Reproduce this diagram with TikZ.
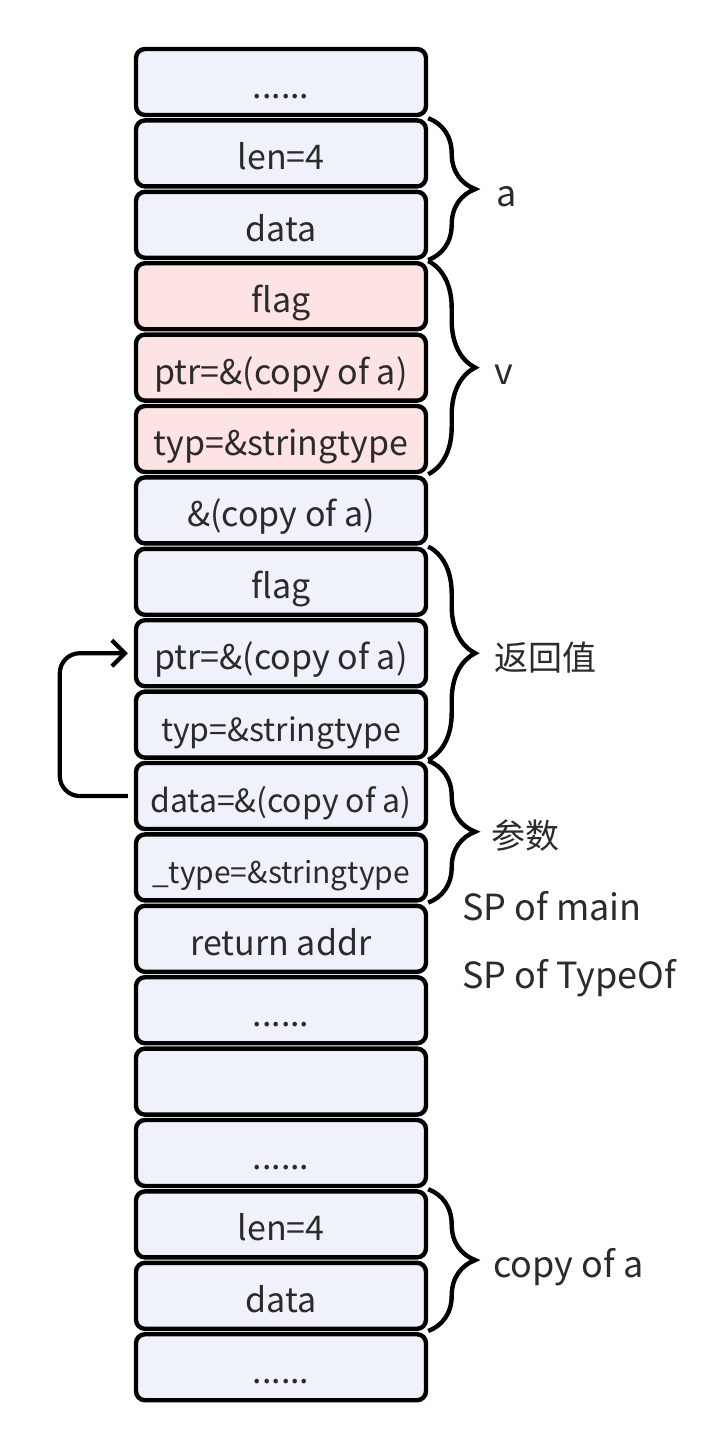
\documentclass[tikz,border=0pt]{standalone}
\usepackage{fontspec}
\setmainfont{Noto Sans CJK SC}
\usetikzlibrary{arrows.meta, positioning, decorations.pathreplacing}
\definecolor{cellblue}{HTML}{EFF2FA}
\definecolor{cellpink}{HTML}{FDE3E3}
\definecolor{txtgray}{HTML}{2B2B2B}

\begin{document}
\begin{tikzpicture}[
    x=1pt, y=-1pt,
    >=Stealth,
    fs/.style={font=\fontsize{#1}{40}\selectfont},
    cell/.style={draw, line width=4.4pt, rounded corners=9pt, fill=cellblue, minimum width=290pt, minimum height=66pt, inner sep=0pt, text=txtgray, fs=34, text height=39pt, text depth=6pt},
    brc/.style={decorate, decoration={brace, amplitude=47pt}, line width=4.4pt},
    lbl/.style={text=txtgray, fs=36, inner sep=0pt, text height=40pt, text depth=6pt},
    flow/.style={line width=4.2pt, rounded corners=20pt, -{Straight Barb[length=13pt, width=26pt]}},
]
\useasboundingbox (0,0) rectangle (726,1452);
% === Stack cells, top to bottom ===
\foreach \i/\v/\c/\f in {1/{......}/cellblue/34, 2/{len=4}/cellblue/34, 3/{data}/cellblue/34,
    4/{flag}/cellpink/34, 5/{ptr=\&(copy of a)}/cellpink/34, 6/{typ=\&stringtype}/cellpink/34,
    7/{\&(copy of a)}/cellblue/34, 8/{flag}/cellblue/34, 9/{ptr=\&(copy of a)}/cellblue/34,
    10/{typ=\&stringtype}/cellblue/32, 11/{data=\&(copy of a)}/cellblue/32,
    12/{\_type=\&stringtype}/cellblue/30, 13/{return addr}/cellblue/34, 14/{......}/cellblue/34,
    15/{}/cellblue/34, 16/{......}/cellblue/34, 17/{len=4}/cellblue/34, 18/{data}/cellblue/34,
    19/{......}/cellblue/34} {
    \node[cell, fill=\c, fs=\f] (r\i) at (281, 82+\i*71.4-71.4) {\v};
}
% === Braces with names ===
\draw[brc] (r2.north east) -- (r3.south east) node[lbl, midway, right=66pt] (la) {a};
\draw[brc] (r4.north east) -- (r6.south east) node[lbl, midway, right=64pt] (lv) {v};
\draw[brc] (r8.north east) -- (r10.south east) node[lbl, fs=34, midway, right=64pt] (lret) {返回值};
\draw[brc] (r11.north east) -- (r12.south east) node[lbl, fs=34, midway, right=61pt] (larg) {参数};
\draw[brc] (r17.north east) -- (r18.south east) node[lbl, midway, right=63pt] (lcopy) {copy of a};
% === Stack pointers ===
\node[lbl, anchor=base west] (spmain) at (462, 920) {SP of main};
\node[lbl, anchor=base west] (sptype) at (462, 988) {SP of TypeOf};
% === Pointer loop ===
\draw[flow] ([xshift=-6pt]r11.west) -| ([xshift=-74pt]r9.west) -- ([xshift=-6pt]r9.west);
\end{tikzpicture}
\end{document}
